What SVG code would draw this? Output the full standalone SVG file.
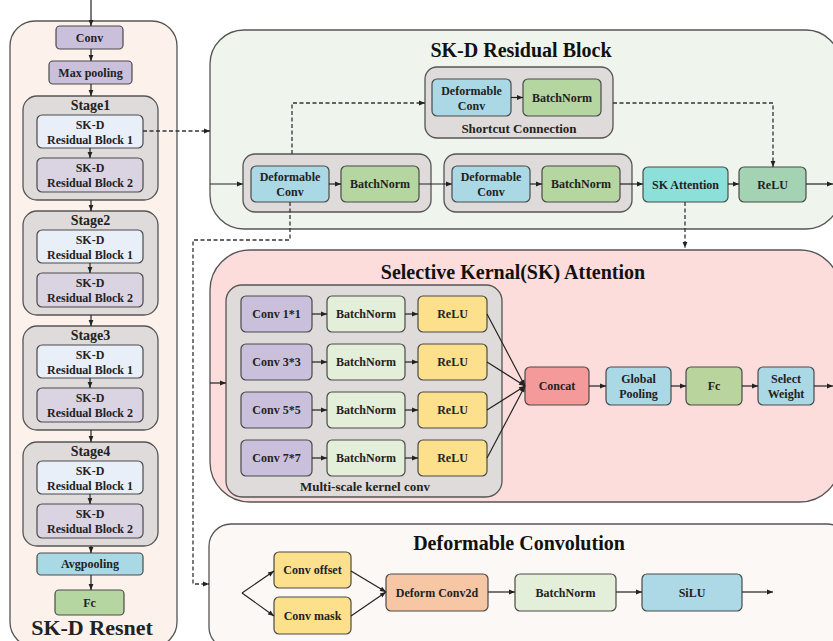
<svg xmlns="http://www.w3.org/2000/svg" width="833" height="641" viewBox="0 0 833 641">
<defs>
<marker id="a" viewBox="0 0 10 10" refX="10" refY="5" markerWidth="7" markerHeight="6" markerUnits="userSpaceOnUse" orient="auto"><path d="M0,1 L10,5 L0,9 z" fill="#222"/></marker>
<style>
.p{stroke:#555;stroke-width:1.3}
.g{fill:#dfdbda;stroke:#555;stroke-width:1.3}
.n{stroke:#4a4a4a;stroke-width:1.2}
.t{font-family:"Liberation Serif","Times New Roman",serif;font-weight:bold;font-size:12px;text-anchor:middle;dominant-baseline:central;fill:#222}
.st{font-size:14px}
.lb{font-size:13px}
.ti{font-size:20px;fill:#111}
.c{stroke:#222;stroke-width:1.2;fill:none;marker-end:url(#a)}
.d{stroke:#333;stroke-width:1.3;fill:none;stroke-dasharray:4 2.5;marker-end:url(#a)}
.pu{fill:#cbc0dc}.pl{fill:#d9d3e2}.wb{fill:#e9eff8}.bl{fill:#aad8e4}.gr{fill:#b5d6a0}.lg{fill:#e3efd9}.ye{fill:#fde08b}
</style>
</defs>

<!-- panels -->
<g id="panel-resnet"><rect x="10" y="21" width="167" height="626" rx="25" fill="#fcf2eb" class="p"/>
<text class="t" x="92" y="627" style="font-size:22px">SK-D Resnet</text></g>
<g id="panel-residual"><rect x="210" y="30" width="630" height="199" rx="34" fill="#eff5ed" class="p"/>
<text class="t ti" x="521" y="50">SK-D Residual Block</text></g>
<g id="panel-sk"><rect x="210" y="250" width="630" height="252" rx="40" fill="#fddcdc" class="p"/>
<text class="t ti" x="513" y="272">Selective Kernal(SK) Attention</text></g>
<g id="panel-deform"><rect x="209" y="524" width="640" height="125" rx="22" fill="#fcf8f5" class="p"/>
<text class="t ti" x="519" y="543">Deformable Convolution</text></g>

<!-- left column -->
<g id="conv"><rect x="56" y="26" width="67" height="23" rx="4" class="n pu"/><text class="t" x="89.5" y="37.5">Conv</text></g>
<g id="maxpool"><rect x="49" y="61" width="83" height="23" rx="4" class="n pu"/><text class="t" x="90.5" y="72.5">Max pooling</text></g>

<g id="stage1"><rect x="23" y="96" width="135" height="104" rx="14" class="g"/><text class="t st" x="90.5" y="105">Stage1</text>
<rect x="37" y="115" width="106" height="33" rx="5" class="n wb"/><text class="t" x="90" y="125">SK-D</text><text class="t" x="90" y="140">Residual Block 1</text>
<rect x="37" y="158" width="106" height="34" rx="5" class="n pl"/><text class="t" x="90" y="168">SK-D</text><text class="t" x="90" y="183">Residual Block 2</text></g>

<g id="stage2"><rect x="23" y="211" width="135" height="104" rx="14" class="g"/><text class="t st" x="90.5" y="220">Stage2</text>
<rect x="37" y="230" width="106" height="33" rx="5" class="n wb"/><text class="t" x="90" y="240">SK-D</text><text class="t" x="90" y="255">Residual Block 1</text>
<rect x="37" y="273" width="106" height="34" rx="5" class="n pl"/><text class="t" x="90" y="283">SK-D</text><text class="t" x="90" y="298">Residual Block 2</text></g>

<g id="stage3"><rect x="23" y="326" width="135" height="104" rx="14" class="g"/><text class="t st" x="90.5" y="335">Stage3</text>
<rect x="37" y="345" width="106" height="33" rx="5" class="n wb"/><text class="t" x="90" y="355">SK-D</text><text class="t" x="90" y="370">Residual Block 1</text>
<rect x="37" y="388" width="106" height="34" rx="5" class="n pl"/><text class="t" x="90" y="398">SK-D</text><text class="t" x="90" y="413">Residual Block 2</text></g>

<g id="stage4"><rect x="23" y="442" width="135" height="104" rx="14" class="g"/><text class="t st" x="90.5" y="451">Stage4</text>
<rect x="37" y="461" width="106" height="33" rx="5" class="n wb"/><text class="t" x="90" y="471">SK-D</text><text class="t" x="90" y="486">Residual Block 1</text>
<rect x="37" y="504" width="106" height="34" rx="5" class="n pl"/><text class="t" x="90" y="514">SK-D</text><text class="t" x="90" y="529">Residual Block 2</text></g>

<g id="avgpool"><rect x="37" y="553" width="106" height="22" rx="4" class="n" fill="#a9d9e4"/><text class="t" x="90" y="564">Avgpooling</text></g>
<g id="fc-left"><rect x="55" y="590" width="69" height="25" rx="4" class="n gr"/><text class="t" x="89.5" y="602.5">Fc</text></g>

<!-- residual block -->
<g id="shortcut"><rect x="425" y="67" width="188" height="71" rx="12" class="g"/>
<rect x="432" y="79" width="79" height="37" rx="5" class="n bl"/><text class="t" x="471.5" y="90.5">Deformable</text><text class="t" x="471.5" y="105.5">Conv</text>
<rect x="523" y="79" width="78" height="37" rx="5" class="n gr"/><text class="t" x="562" y="97.5">BatchNorm</text>
<text class="t lb" x="519" y="128">Shortcut Connection</text></g>

<g id="group1"><rect x="243" y="154" width="188" height="58" rx="12" class="g"/>
<rect x="251" y="166" width="78" height="36" rx="5" class="n bl"/><text class="t" x="290" y="176.5">Deformable</text><text class="t" x="290" y="191.5">Conv</text>
<rect x="341" y="166" width="78" height="36" rx="5" class="n gr"/><text class="t" x="380" y="184">BatchNorm</text></g>

<g id="group2"><rect x="444" y="154" width="188" height="58" rx="12" class="g"/>
<rect x="452" y="166" width="78" height="36" rx="5" class="n bl"/><text class="t" x="491" y="176.5">Deformable</text><text class="t" x="491" y="191.5">Conv</text>
<rect x="542" y="166" width="78" height="36" rx="5" class="n gr"/><text class="t" x="581" y="184">BatchNorm</text></g>

<g id="skatt"><rect x="643" y="167" width="85" height="35" rx="5" class="n" fill="#8de0da"/><text class="t" x="685.5" y="184.5">SK Attention</text></g>
<g id="relu-res"><rect x="739" y="167" width="67" height="35" rx="5" class="n" fill="#a4d3b4"/><text class="t" x="772.5" y="184.5">ReLU</text></g>

<!-- SK attention -->
<g id="multiscale"><rect x="226" y="285" width="276" height="212" rx="16" class="g"/>
<text class="t lb" x="365" y="486">Multi-scale kernel conv</text>
<rect x="241" y="296" width="71" height="36" rx="5" class="n pu"/><text class="t" x="276.5" y="314">Conv 1*1</text>
<rect x="327" y="296" width="78" height="36" rx="5" class="n lg"/><text class="t" x="366" y="314">BatchNorm</text>
<rect x="418" y="296" width="69" height="36" rx="5" class="n ye"/><text class="t" x="452.5" y="314">ReLU</text>
<rect x="241" y="344" width="71" height="36" rx="5" class="n pu"/><text class="t" x="276.5" y="362">Conv 3*3</text>
<rect x="327" y="344" width="78" height="36" rx="5" class="n lg"/><text class="t" x="366" y="362">BatchNorm</text>
<rect x="418" y="344" width="69" height="36" rx="5" class="n ye"/><text class="t" x="452.5" y="362">ReLU</text>
<rect x="241" y="392" width="71" height="36" rx="5" class="n pu"/><text class="t" x="276.5" y="410">Conv 5*5</text>
<rect x="327" y="392" width="78" height="36" rx="5" class="n lg"/><text class="t" x="366" y="410">BatchNorm</text>
<rect x="418" y="392" width="69" height="36" rx="5" class="n ye"/><text class="t" x="452.5" y="410">ReLU</text>
<rect x="241" y="440" width="71" height="36" rx="5" class="n pu"/><text class="t" x="276.5" y="458">Conv 7*7</text>
<rect x="327" y="440" width="78" height="36" rx="5" class="n lg"/><text class="t" x="366" y="458">BatchNorm</text>
<rect x="418" y="440" width="69" height="36" rx="5" class="n ye"/><text class="t" x="452.5" y="458">ReLU</text></g>

<g id="concat"><rect x="525" y="367" width="64" height="38" rx="5" class="n" fill="#f59a9a"/><text class="t" x="557" y="386">Concat</text></g>
<g id="gpool"><rect x="606" y="367" width="65" height="38" rx="5" class="n bl"/><text class="t" x="638.5" y="379">Global</text><text class="t" x="638.5" y="394">Pooling</text></g>
<g id="fc-sk"><rect x="686" y="367" width="56" height="38" rx="5" class="n" fill="#b9d59d"/><text class="t" x="714" y="386">Fc</text></g>
<g id="selw"><rect x="758" y="367" width="56" height="38" rx="5" class="n bl"/><text class="t" x="786" y="379">Select</text><text class="t" x="786" y="394">Weight</text></g>

<!-- deformable conv -->
<g id="offset"><rect x="274" y="552" width="77" height="36" rx="5" class="n ye"/><text class="t" x="312.5" y="570">Conv offset</text></g>
<g id="mask"><rect x="274" y="597" width="77" height="37" rx="5" class="n ye"/><text class="t" x="312.5" y="615.5">Conv mask</text></g>
<g id="dconv2d"><rect x="386" y="574" width="102" height="37" rx="5" class="n" fill="#f7c6a5"/><text class="t" x="437" y="592.5">Deform Conv2d</text></g>
<g id="bn-dc"><rect x="515" y="574" width="101" height="37" rx="5" class="n lg"/><text class="t" x="565.5" y="592.5">BatchNorm</text></g>
<g id="silu"><rect x="642" y="574" width="100" height="37" rx="5" class="n" fill="#add9e6"/><text class="t" x="692" y="592.5">SiLU</text></g>

<g id="connectors">
<path class="c" d="M91,0 V26"/>
<path class="c" d="M91,49 V61"/>
<path class="c" d="M91,84 V96"/>
<path class="c" d="M90,148 V158"/>
<path class="c" d="M91,200 V211"/>
<path class="c" d="M90,263 V273"/>
<path class="c" d="M91,315 V326"/>
<path class="c" d="M90,378 V388"/>
<path class="c" d="M91,430 V442"/>
<path class="c" d="M90,494 V504"/>
<path class="c" d="M91,546 V553"/>
<path class="c" d="M91,575 V590"/>

<path class="c" d="M210,184 H243"/>
<path class="c" d="M329,184 H341"/>
<path class="c" d="M419,184 H452"/>
<path class="c" d="M530,184 H542"/>
<path class="c" d="M620,184 H643"/>
<path class="c" d="M728,184 H739"/>
<path class="c" d="M806,184 H833"/>
<path class="c" d="M511,97.5 H523"/>

<path class="d" d="M143,131 H210"/>
<path class="d" d="M292,154 V103 H425"/>
<path class="d" d="M613,103 H773 V167"/>
<path class="d" d="M685,202 V248"/>
<path class="d" d="M290,202 V240 H193 V584 H209"/>

<path class="c" d="M210,383 H226"/>
<path class="c" d="M312,314 H327"/><path class="c" d="M405,314 H418"/>
<path class="c" d="M312,362 H327"/><path class="c" d="M405,362 H418"/>
<path class="c" d="M312,410 H327"/><path class="c" d="M405,410 H418"/>
<path class="c" d="M312,458 H327"/><path class="c" d="M405,458 H418"/>
<path class="c" d="M487,314 L525,386"/>
<path class="c" d="M487,362 L525,386"/>
<path class="c" d="M487,410 L525,386"/>
<path class="c" d="M487,458 L525,386"/>
<path class="c" d="M589,386 H606"/>
<path class="c" d="M671,386 H686"/>
<path class="c" d="M742,386 H758"/>
<path class="c" d="M814,386 H833"/>

<path class="c" d="M242,593 L274,571"/>
<path class="c" d="M242,593 L274,616"/>
<path class="c" d="M351,571 L386,592"/>
<path class="c" d="M351,616 L386,592"/>
<path class="c" d="M488,592 H515"/>
<path class="c" d="M616,592 H642"/>
<path class="c" d="M742,592 H773"/>
</g>
</svg>
